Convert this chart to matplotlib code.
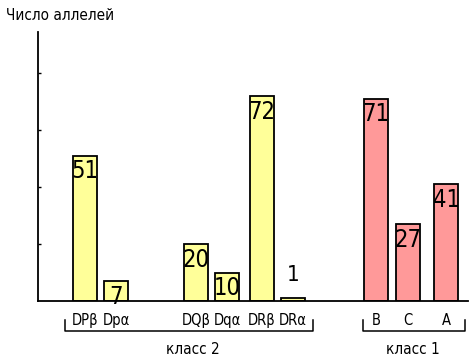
import matplotlib.pyplot as plt
import matplotlib.transforms as mtransforms

# Data
labels = ['DPβ', 'Dpα', 'DQβ', 'Dqα', 'DRβ', 'DRα', 'B', 'C', 'A']
values = [51, 7, 20, 10, 72, 1, 71, 27, 41]
groups = ['класс 2'] * 6 + ['класс 1'] * 3

# Layout (slot positions of the bars along x)
positions = [0, 1, 3.58, 4.58, 5.71, 6.71, 9.39, 10.42, 11.65]
YELLOW = '#FFFF99'
PINK = '#FF9999'

plt.rcParams['font.family'] = ['DejaVu Sans']
plt.rcParams['font.stretch'] = 'condensed'

fig = plt.figure(figsize=(4.74, 3.56), dpi=100)
ax = fig.add_axes([0.0802, 0.1545, 0.907, 0.7556])

colors = [YELLOW if g == 'класс 2' else PINK for g in groups]
ax.bar(positions, values, width=0.774, color=colors, edgecolor='black', linewidth=1.3)

# value labels
for x, v in zip(positions, values):
    if v < 5:
        ax.text(x, v + 4.5, str(v), ha='center', va='bottom', fontsize=16,
                stretch='condensed')
    else:
        ax.text(x, v - 1.3, str(v), ha='center', va='top', fontsize=17,
                stretch='condensed')

ax.set_xlim(-1.516, 12.355)
ax.set_ylim(0, 94.4)
ax.set_yticks([20, 40, 60, 80])
ax.set_yticklabels([])
ax.tick_params(axis='y', direction='in', length=2.5, width=1)
ax.set_xticks(positions)
ax.set_xticklabels(labels, fontsize=10.5, stretch='condensed')
ax.tick_params(axis='x', length=0, pad=9)

for s in ['top', 'right']:
    ax.spines[s].set_visible(False)
for s in ['left', 'bottom']:
    ax.spines[s].set_linewidth(1.3)

# group brackets under the tick labels
trans = mtransforms.blended_transform_factory(ax.transData, fig.transFigure)
y_hi, y_lo = 0.101, 0.070
for (x0, x1, name, xc) in [(-0.645, 7.355, 'класс 2', 3.48),
                           (8.97, 12.26, 'класс 1', 10.58)]:
    ax.plot([x0, x0, x1, x1], [y_hi, y_lo, y_lo, y_hi], color='black',
            linewidth=1.1, transform=trans, clip_on=False)
    ax.text(xc, 0.017, name, transform=trans, ha='center', va='center',
            fontsize=11, stretch='condensed')

fig.text(0.012, 0.957, 'Число аллелей', ha='left', va='center', fontsize=11,
         stretch='condensed')

fig.savefig('out.png', dpi=100)
